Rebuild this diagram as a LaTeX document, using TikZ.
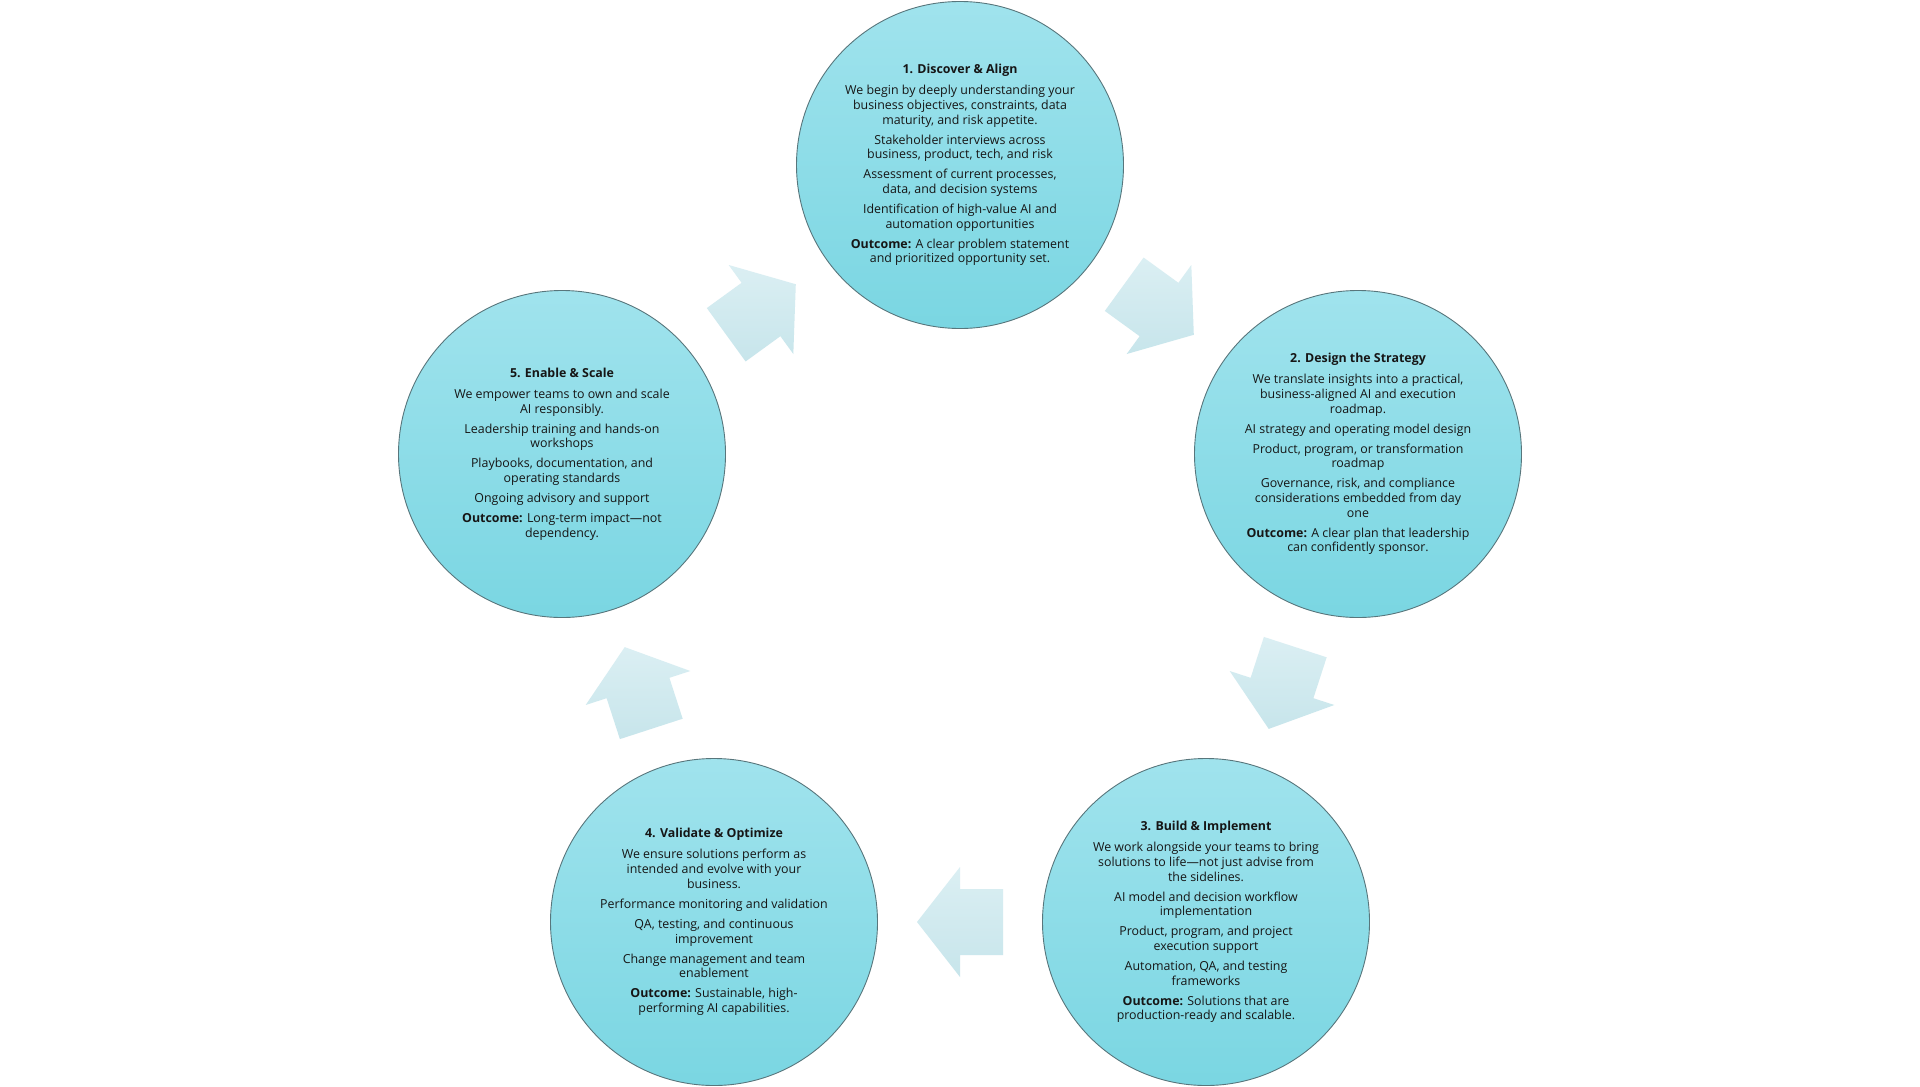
\documentclass[tikz,border=0pt]{standalone}
\usepackage{fontspec}
\setmainfont{Open Sans}
\usetikzlibrary{calc}
\definecolor{circtop}{RGB}{160,227,237}
\definecolor{circbot}{RGB}{122,214,226}
\definecolor{circedge}{RGB}{88,118,124}
\definecolor{arrtop}{RGB}{219,239,243}
\definecolor{arrbot}{RGB}{199,229,235}
\definecolor{txtcol}{RGB}{22,22,22}
\tikzset{
  stage/.style={circle, minimum size=327pt, inner sep=0pt, draw=circedge, line width=0.9pt, top color=circtop, bottom color=circbot},
  stagetext/.style={align=center, inner sep=0pt, text=txtcol, font=\fontsize{12.4}{14.7}\selectfont},
  arrowbody/.style={top color=arrtop, bottom color=arrbot, draw=none}
}
\newcommand{\cyclearrow}[3]{%
  \coordinate (#1-m) at ($(#2.center)!0.5!(#3.center)$);
  \coordinate (#1-t) at ($(#1-m)!43pt!(#3.center)$);
  \coordinate (#1-b) at ($(#1-m)!-43pt!(#3.center)$);
  \shade[arrowbody] ($(#1-b)!33pt!90:(#3.center)$) -- ($(#1-m)!33pt!90:(#3.center)$)
    -- ($(#1-m)!55pt!90:(#3.center)$) -- (#1-t)
    -- ($(#1-m)!55pt!-90:(#3.center)$) -- ($(#1-m)!33pt!-90:(#3.center)$)
    -- ($(#1-b)!33pt!-90:(#3.center)$) -- cycle;
}
\begin{document}
\begin{tikzpicture}[x=1pt, y=-1pt]
\fill[white] (0,0) rectangle (1920,1087);
\useasboundingbox (0,0) rectangle (1920,1087);

\node[stage] (s1) at (960,165) {};
\node[stage] (s2) at (1358,454) {};
\node[stage] (s3) at (1206,922) {};
\node[stage] (s4) at (714,922) {};
\node[stage] (s5) at (562,454) {};

\cyclearrow{a12}{s1}{s2}
\cyclearrow{a23}{s2}{s3}
\cyclearrow{a34}{s3}{s4}
\cyclearrow{a45}{s4}{s5}
\cyclearrow{a51}{s5}{s1}

\node[stagetext] (t1) at (s1) {\textbf{1. Discover \& Align}\\[6.3pt]
We begin by deeply understanding your\\
business objectives, constraints, data\\
maturity, and risk appetite.\\[5.3pt]
Stakeholder interviews across\\
business, product, tech, and risk\\[5.3pt]
Assessment of current processes,\\
data, and decision systems\\[5.3pt]
Identification of high-value AI and\\
automation opportunities\\[5.3pt]
\textbf{Outcome:} A clear problem statement\\
and prioritized opportunity set.};

\node[stagetext] (t2) at (s2) {\textbf{2. Design the Strategy}\\[6.3pt]
We translate insights into a practical,\\
business-aligned AI and execution\\
roadmap.\\[5.3pt]
AI strategy and operating model design\\[5.3pt]
Product, program, or transformation\\
roadmap\\[5.3pt]
Governance, risk, and compliance\\
considerations embedded from day\\
one\\[5.3pt]
\textbf{Outcome:} A clear plan that leadership\\
can confidently sponsor.};

\node[stagetext] (t3) at (s3) {\textbf{3. Build \& Implement}\\[6.3pt]
We work alongside your teams to bring\\
solutions to life—not just advise from\\
the sidelines.\\[5.3pt]
AI model and decision workflow\\
implementation\\[5.3pt]
Product, program, and project\\
execution support\\[5.3pt]
Automation, QA, and testing\\
frameworks\\[5.3pt]
\textbf{Outcome:} Solutions that are\\
production-ready and scalable.};

\node[stagetext] (t4) at (s4) {\textbf{4. Validate \& Optimize}\\[6.3pt]
We ensure solutions perform as\\
intended and evolve with your\\
business.\\[5.3pt]
Performance monitoring and validation\\[5.3pt]
QA, testing, and continuous\\
improvement\\[5.3pt]
Change management and team\\
enablement\\[5.3pt]
\textbf{Outcome:} Sustainable, high-\\
performing AI capabilities.};

\node[stagetext] (t5) at (s5) {\textbf{5. Enable \& Scale}\\[6.3pt]
We empower teams to own and scale\\
AI responsibly.\\[5.3pt]
Leadership training and hands-on\\
workshops\\[5.3pt]
Playbooks, documentation, and\\
operating standards\\[5.3pt]
Ongoing advisory and support\\[5.3pt]
\textbf{Outcome:} Long-term impact—not\\
dependency.};
\end{tikzpicture}
\end{document}
